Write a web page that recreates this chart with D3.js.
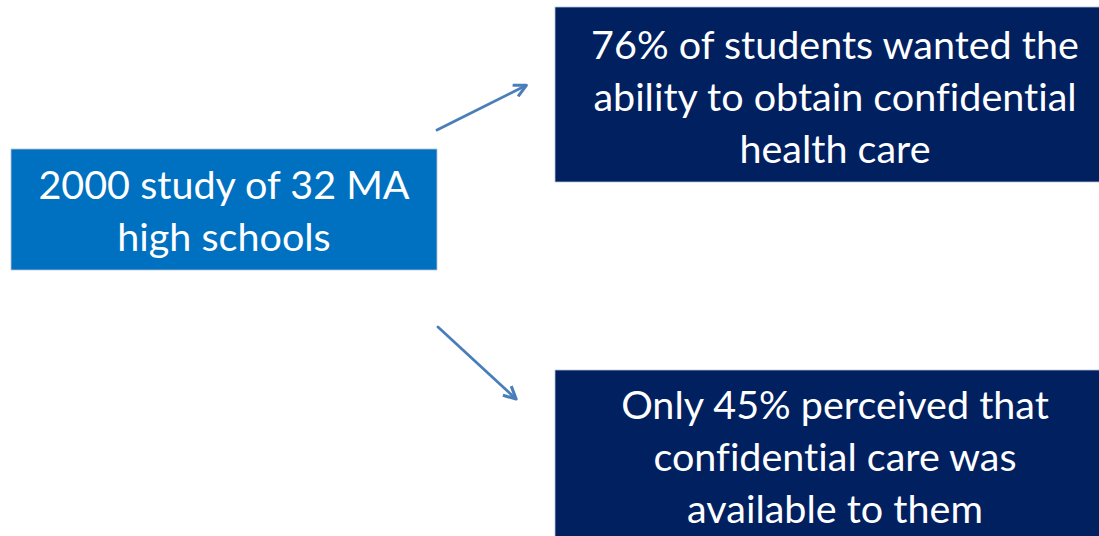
<!DOCTYPE html>
<html>
<head>
<meta charset="utf-8">
<script src="https://cdn.jsdelivr.net/npm/d3@7"></script>
<style>
  body { margin: 0; background: #fff; }
  svg { display: block; }
  text { font-family: Lato, "Open Sans", sans-serif; fill: #fff; font-variant-ligatures: none; }
</style>
</head>
<body>
<div id="chart"></div>
<script>
// diagram content
const boxNames = ["study", "wanted", "perceived"];
const boxLines = [
  ["2000 study of 32 MA", "high schools"],
  ["76% of students wanted the", "ability to obtain confidential", "health care"],
  ["Only 45% perceived that", "confidential care was", "available to them"]
];
const boxColors = ["#0070C0", "#002060", "#002060"];
// arrows go from the study box to each finding
const arrowLinks = [["study", "wanted"], ["study", "perceived"]];

const W = 1099, H = 536;
const fontSize = 39.5, lineGap = 52;

// box layout (left, top, width, height)
const layout = {
  study:     {x: 11,  y: 149, w: 426, h: 121},
  wanted:    {x: 555, y: 7,   w: 562, h: 175},
  perceived: {x: 555, y: 370, w: 562, h: 200}
};
const arrowEnds = {
  wanted:    {x1: 437, y1: 130, x2: 525, y2: 86},
  perceived: {x1: 438, y1: 327, x2: 515, y2: 398}
};
const textCenterY = {study: 211, wanted: 97, perceived: 457};

const svg = d3.select('#chart').append('svg')
  .attr('width', W).attr('height', H);

const defs = svg.append('defs');
defs.append('marker')
  .attr('id', 'head')
  .attr('viewBox', '0 0 10 10')
  .attr('refX', 8).attr('refY', 5)
  .attr('markerWidth', 5.5).attr('markerHeight', 5.5)
  .attr('orient', 'auto')
  .append('path')
  .attr('d', 'M1,1 L9,5 L1,9')
  .attr('fill', 'none')
  .attr('stroke', '#4A7EBB')
  .attr('stroke-width', 2)
  .attr('stroke-linejoin', 'round');

// boxes
boxNames.forEach((name, i) => {
  const b = layout[name];
  const g = svg.append('g').attr('class', 'box').attr('id', 'box_' + name);
  g.append('rect')
    .attr('x', b.x).attr('y', b.y)
    .attr('width', b.w).attr('height', b.h)
    .attr('fill', boxColors[i])
    .attr('stroke', '#b8c4d6')
    .attr('stroke-width', 0.8);
  const cx = name == 'study' ? b.x + b.w / 2 : 835;
  const lines = boxLines[i];
  const y0 = textCenterY[name] - (lines.length - 1) * lineGap / 2;
  g.selectAll('text')
    .data(lines)
    .enter()
    .append('text')
    .text(d => d)
    .attr('x', cx)
    .attr('y', (d, j) => y0 + j * lineGap)
    .attr('dy', '0.35em')
    .attr('text-anchor', 'middle')
    .style('font-size', fontSize + 'px');
});

// arrows
svg.append('g').attr('id', 'arrows')
  .selectAll('line')
  .data(arrowLinks)
  .enter()
  .append('line')
  .attr('x1', d => arrowEnds[d[1]].x1)
  .attr('y1', d => arrowEnds[d[1]].y1)
  .attr('x2', d => arrowEnds[d[1]].x2)
  .attr('y2', d => arrowEnds[d[1]].y2)
  .attr('stroke', '#4A7EBB')
  .attr('stroke-width', 2.8)
  .attr('stroke-linecap', 'round')
  .attr('marker-end', 'url(#head)');
</script>
</body>
</html>
